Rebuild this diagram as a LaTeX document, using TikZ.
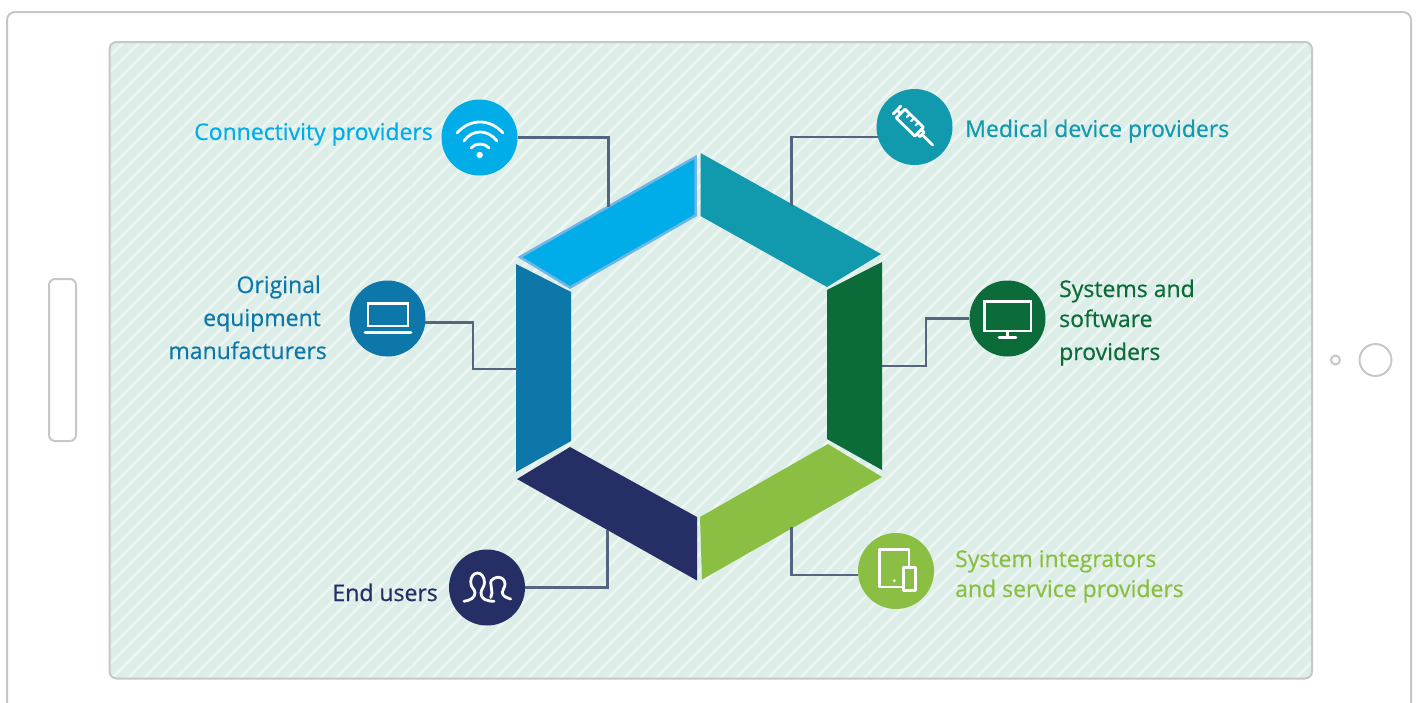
\documentclass[tikz,border=0pt]{standalone}
\usepackage{fontspec}
\setmainfont{Open Sans}[FakeBold=0.5]
\usetikzlibrary{calc}
\definecolor{cCyan}{HTML}{00ADE8}
\definecolor{cCyanE}{HTML}{6DB6E6}
\definecolor{cTeal}{HTML}{1199AD}
\definecolor{cDark}{HTML}{0B6C3A}
\definecolor{cLime}{HTML}{8ABF43}
\definecolor{cNavy}{HTML}{252F65}
\definecolor{cBlue}{HTML}{0D77A9}
\definecolor{cBg}{HTML}{DDEDE7}
\definecolor{cStripe}{HTML}{EDF6F3}
\definecolor{cFrame}{HTML}{C6C8C8}
\definecolor{cLine}{HTML}{55657F}
\tikzset{
  frame/.style={draw=cFrame,line width=2pt,fill=white},
  badge/.style={circle,minimum size=76pt,inner sep=0pt,fill=#1},
  lab/.style={font=\fontsize{23}{32}\selectfont,text=#1,inner sep=0pt},
  conn/.style={draw=cLine,line width=2.2pt,line join=miter},
  ico/.style={draw=white!92!cBg,line width=2.8pt,line cap=round,line join=round},
}
\begin{document}
\begin{tikzpicture}[x=1pt,y=-1pt]
\useasboundingbox (0,0) rectangle (1417,702);
\fill[white] (0,0) rectangle (1417,702);
% device
\draw[frame,rounded corners=8pt] (7,720) -- (7,12) -- (1411,12) -- (1411,720);
\draw[frame,rounded corners=6pt] (49,279) rectangle (76,441);
\node[draw=cFrame,line width=2pt,circle,minimum size=32pt,inner sep=0pt] (home) at (1375.5,360) {};
\node[draw=cFrame,line width=2pt,circle,minimum size=9pt,inner sep=0pt] (cam) at (1335.5,360) {};
% screen
\begin{scope}
\path[rounded corners=7pt,clip] (109.5,42) rectangle (1312,678.5);
\fill[cBg] (109,41) rectangle (1313,679);
\foreach \k in {0,...,115}{
  \draw[cStripe,line width=2.6pt] ({100+16*\k},690) -- ++(680,-680);
  \draw[cStripe,line width=2.6pt] ({100-16*\k},690) -- ++(680,-680);
}
\foreach \k in {0,...,9}{
  \draw[cBg,line width=1pt,opacity=.6] ({183+114*\k},42) -- ({183+114*\k},678);
}
\end{scope}
\draw[draw=cFrame,line width=2pt,rounded corners=7pt] (109.5,42) rectangle (1312,678.5);
% hexagon
\fill[cTeal] (700.5,153) -- (881,254) -- (827,287) -- (700.5,216) -- cycle;
\fill[cDark] (882,262) -- (882,470) -- (827,439) -- (827,290) -- cycle;
\fill[cLime] (828,444) -- (882,477) -- (702,579.5) -- (700,517) -- cycle;
\fill[cNavy] (570,447) -- (697,517) -- (697,580.5) -- (517,479) -- cycle;
\fill[cBlue] (516,264) -- (571,292) -- (571,441) -- (516,472) -- cycle;
\filldraw[fill=cCyan,draw=cCyanE,line width=2.5pt,line join=miter] (695.5,157) -- (695.5,215.5) -- (570,287.5) -- (520,257) -- cycle;
% end points of connectors
\coordinate (hubW) at (608.5,207);
\coordinate (hubM) at (791.5,206);
\coordinate (elbS) at (926,366);
\coordinate (hubS) at (882,366);
\coordinate (elbO) at (473,369);
\coordinate (hubO) at (518,369);
\coordinate (hubE) at (607.5,530);
\coordinate (hubT) at (791.5,527);
% badges
\node[badge=cCyan] (wifi) at (479.5,137.5) {};
\node[badge=cTeal] (med) at (914.5,127) {};
\node[badge=cDark] (mon) at (1007.5,318.5) {};
\node[badge=cBlue] (lap) at (387.5,318.5) {};
\node[badge=cNavy] (usr) at (487,587.5) {};
\node[badge=cLime] (tab) at (896,571) {};
% connectors
\draw[conn] (wifi.east) -| (hubW);
\draw[conn] (med.195) -| (hubM);
\draw[conn] (mon.west) -| (elbS) -- (hubS);
\draw[conn] (lap.-6) -| (elbO) -- (hubO);
\draw[conn] (usr.east) -| (hubE);
\draw[conn] (tab.186) -| (hubT);
% wifi icon
\draw[ico] (457,133) .. controls (470,118.3) and (490,118.3) .. (503,133);
\draw[ico] (464,141) .. controls (472,129) and (488,129) .. (497,141);
\draw[ico] (471,148) .. controls (475,142.7) and (485,142.7) .. (489,148);
\fill[white!92!cBg] (479.7,155) circle (3.2pt);
% syringe
\begin{scope}[shift={(897,110)},rotate=-44.4]
\draw[ico] (0,-5.5) -- (0,5.5);
\draw[ico] (0,0) -- (5,0);
\draw[ico] (5,-6.2) -- (5,6.2) -- (31,6.2) -- (31,-6.2) -- cycle;
\draw[ico] (31,-3) -- (35,-3) -- (35,3) -- (31,3);
\draw[ico] (35,0) -- (50,0);
\foreach \u in {12,18,24}{\draw[ico,line width=2.2pt] (\u,-6.2) -- (\u,-2);}
\end{scope}
% monitor icon
\draw[ico,line cap=butt,line join=miter] (984.5,301.5) rectangle (1031,331);
\draw[ico,line cap=butt] (1007.5,331) -- (1007.5,337);
\draw[ico] (999,337.5) -- (1016,337.5);
% laptop icon
\draw[ico,line join=miter] (368,303.5) rectangle (408,326);
\draw[ico] (365,332.3) -- (411,332.3);
% tablet icon
\draw[ico] (879.5,549.5) rectangle (909,587);
\filldraw[ico,fill=cLime] (903.5,567.5) rectangle (915.5,590.5);
\fill[white!92!cBg] (894.3,580.7) circle (1.6pt);
% users icon
\draw[ico] (464,601.3) .. controls (470,600.5) and (475,598) .. (475,592.5) .. controls (475,589) and (470.7,588) .. (470.7,582) .. controls (470.7,576.5) and (474,573) .. (477.5,573) .. controls (481.5,573) and (484.5,577) .. (484.5,582.5) .. controls (484.5,587) and (481,589) .. (481,593) .. controls (481,599) and (486,601) .. (494,601.3);
\draw[ico] (490.7,597.5) .. controls (492,593.5) and (492.5,592) .. (491.5,589) .. controls (490.5,586) and (490.5,585) .. (490.7,582.3) .. controls (491,579.5) and (495,577.3) .. (498.3,577.3) .. controls (502,577.3) and (505,580) .. (505,584) .. controls (505,588) and (502.3,589) .. (502.3,592.3) .. controls (502.3,596) and (506,597.5) .. (510.7,599);
% labels
\node[lab=cCyan,anchor=east] (tW) at (433,134) {Connectivity providers};
\node[lab=cTeal,anchor=west] (tM) at (965,131) {Medical device providers};
\node[lab=cBlue,anchor=base east] (tO1) at (321,293) {Original};
\node[lab=cBlue,anchor=base east] (tO2) at (321,326) {equipment};
\node[lab=cBlue,anchor=base east] (tO3) at (327,359) {manufacturers};
\node[lab=cDark,anchor=base west] (tS1) at (1059,297) {Systems and};
\node[lab=cDark,anchor=base west] (tS2) at (1059,327) {software};
\node[lab=cDark,anchor=base west] (tS3) at (1059,360) {providers};
\node[lab=cNavy,anchor=base east] (tE) at (438,601) {End users};
\node[lab=cLime,anchor=base west] (tT1) at (955,567) {System integrators};
\node[lab=cLime,anchor=base west] (tT2) at (955,597) {and service providers};
\end{tikzpicture}
\end{document}
